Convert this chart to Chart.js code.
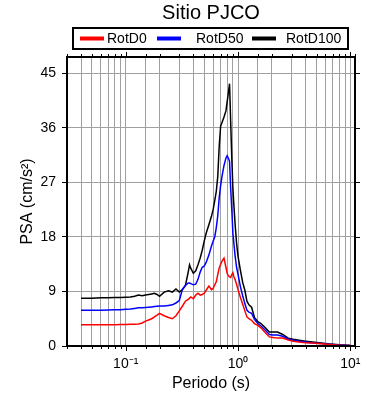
<!DOCTYPE html>
<html>
<head>
<meta charset="utf-8">
<script src="https://cdn.jsdelivr.net/npm/chart.js@4.4.0/dist/chart.umd.min.js"></script>
<style>
  html, body { margin: 0; padding: 0; background: #fff; }
</style>
</head>
<body>
<canvas id="psa-chart" width="390" height="400"></canvas>
<script>
// periods (s) shared by the three spectra
var periods = [0.04, 0.05, 0.06, 0.07, 0.08, 0.09, 0.10, 0.11, 0.12, 0.13,
  0.14, 0.15, 0.16, 0.17, 0.18, 0.19, 0.20, 0.22, 0.24, 0.26,
  0.28, 0.30, 0.32, 0.34, 0.36, 0.37, 0.38, 0.40, 0.42, 0.44,
  0.46, 0.48, 0.50, 0.52, 0.55, 0.58, 0.60, 0.62, 0.64, 0.66,
  0.68, 0.70, 0.72, 0.75, 0.78, 0.80, 0.82, 0.84, 0.86, 0.88,
  0.90, 0.92, 0.94, 0.97, 1.00, 1.05, 1.10, 1.15, 1.20, 1.25,
  1.32, 1.40, 1.50, 1.60, 1.75, 1.90, 2.05, 2.25, 2.50, 2.80,
  3.10, 3.50, 4.00, 4.60, 5.50, 6.50, 8.00, 10.0];

var rotD0 = [3.5, 3.5, 3.5, 3.5, 3.5, 3.55, 3.55, 3.6, 3.6, 3.65,
  3.8, 4.1, 4.3, 4.5, 4.8, 5.1, 5.4, 5.0, 4.7, 4.5,
  5.0, 5.8, 6.6, 7.4, 7.7, 7.9, 8.1, 7.8, 8.4, 8.7,
  8.4, 8.5, 8.7, 9.2, 9.9, 9.3, 9.5, 10.1, 10.6, 11.8,
  12.9, 13.5, 14.0, 14.5, 13.0, 12.0, 11.6, 11.4, 11.3, 11.8,
  12.1, 11.4, 11.0, 10.2, 9.3, 8.0, 6.9, 5.8, 4.8, 4.5,
  4.25, 3.7, 3.4, 3.0, 2.2, 1.5, 1.4, 1.3, 1.3, 1.0,
  0.8, 0.65, 0.55, 0.48, 0.38, 0.26, 0.14, 0.07];

var rotD50 = [5.9, 5.9, 5.9, 5.95, 6.0, 6.0, 6.05, 6.1, 6.2, 6.3,
  6.3, 6.35, 6.4, 6.45, 6.5, 6.55, 6.6, 6.6, 6.7, 6.8,
  7.1, 7.5, 9.4, 10.0, 10.4, 10.4, 10.3, 10.1, 10.2, 11.0,
  12.2, 13.0, 13.2, 13.8, 15.0, 16.5, 17.3, 18.0, 19.5, 21.5,
  24.5, 26.5, 28.0, 29.8, 31.0, 31.4, 31.0, 30.5, 26.0, 22.5,
  18.6, 16.8, 15.0, 13.0, 11.8, 9.8, 8.3, 7.0, 5.9, 5.6,
  5.4, 4.4, 3.7, 3.3, 2.6, 1.9, 1.8, 1.8, 1.6, 1.15,
  0.95, 0.8, 0.65, 0.5, 0.4, 0.28, 0.15, 0.08];

var rotD100 = [7.9, 7.9, 7.95, 7.95, 8.0, 8.0, 8.05, 8.1, 8.2, 8.4,
  8.3, 8.4, 8.5, 8.6, 8.7, 8.5, 8.2, 8.9, 9.1, 8.9,
  9.4, 8.9, 9.3, 10.0, 12.2, 13.4, 12.8, 12.0, 12.4, 13.4,
  14.5, 15.8, 17.3, 18.6, 20.0, 21.4, 22.5, 24.0, 25.5, 28.0,
  33.0, 36.3, 36.9, 37.8, 38.8, 40.3, 41.8, 43.3, 37.0, 31.0,
  26.0, 23.0, 20.3, 17.0, 14.8, 12.5, 10.5, 9.2, 7.4, 6.8,
  6.4, 4.7, 4.0, 3.7, 3.0, 2.3, 2.3, 2.3, 1.9, 1.3,
  1.1, 0.95, 0.8, 0.66, 0.5, 0.35, 0.2, 0.1];

var seriesNames = ['RotD0', 'RotD50', 'RotD100'];
var seriesColors = ['#ff0000', '#0000ff', '#000000'];
var yTicks = [0, 9, 18, 27, 36, 45];

var FONT = "'Liberation Sans', Arial, Helvetica, sans-serif";
var SUP = { '-': '\u207B', '0': '\u2070', '1': '\u00B9', '2': '\u00B2', '3': '\u00B3' };

function isDecade(v) {
  var l = Math.log10(v);
  return Math.abs(l - Math.round(l)) < 1e-6;
}

function toPoints(values) {
  return periods.map(function (p, i) { return { x: p, y: values[i] }; });
}

// frame, outer ticks and the boxed legend (GMT look)
var frameAndLegend = {
  id: 'frameAndLegend',
  afterDraw: function (chart) {
    var ctx = chart.ctx;
    var a = chart.chartArea;
    var xs = chart.scales.x;
    var ys = chart.scales.y;
    ctx.save();
    ctx.strokeStyle = '#000';
    ctx.lineWidth = 1;
    ctx.beginPath();
    xs.ticks.forEach(function (t) {
      var px = Math.round(xs.getPixelForValue(t.value)) + 0.5;
      var len = isDecade(t.value) ? 5 : 3;
      ctx.moveTo(px, a.top);
      ctx.lineTo(px, a.top - len);
      ctx.moveTo(px, a.bottom);
      ctx.lineTo(px, a.bottom + len);
    });
    ys.ticks.forEach(function (t) {
      var py = Math.round(ys.getPixelForValue(t.value)) + 0.5;
      ctx.moveTo(a.right, py);
      ctx.lineTo(a.right + 5, py);
    });
    ctx.stroke();

    ctx.lineWidth = 2;
    ctx.strokeRect(a.left, a.top, a.right - a.left, a.bottom - a.top);

    // legend box
    var box = { left: 73, top: 28, right: 348, bottom: 49 };
    ctx.lineWidth = 2;
    ctx.strokeRect(box.left, box.top, box.right - box.left, box.bottom - box.top);
    var lineStart = [80, 157, 252];
    var textStart = [107, 196, 286];
    var midY = (box.top + box.bottom) / 2;
    ctx.font = '14px ' + FONT;
    ctx.textBaseline = 'middle';
    ctx.fillStyle = '#000';
    chart.data.datasets.forEach(function (ds, i) {
      ctx.strokeStyle = ds.borderColor;
      ctx.lineWidth = 4;
      ctx.beginPath();
      ctx.moveTo(lineStart[i], midY);
      ctx.lineTo(lineStart[i] + 24, midY);
      ctx.stroke();
      ctx.fillText(ds.label, textStart[i], midY + 0.5);
    });
    ctx.restore();
  }
};

var ctx = document.getElementById('psa-chart');

var psaChart = new Chart(ctx, {
  type: 'line',
  data: {
    datasets: [rotD0, rotD50, rotD100].map(function (vals, i) {
      return {
        label: seriesNames[i],
        data: toPoints(vals),
        borderColor: seriesColors[i],
        backgroundColor: seriesColors[i],
        borderWidth: 1.5,
        pointRadius: 0,
        tension: 0,
        fill: false
      };
    })
  },
  options: {
    responsive: false,
    animation: false,
    layout: { padding: { left: 0, right: 35, top: 0, bottom: 0 } },
    plugins: {
      legend: { display: false },
      tooltip: { enabled: false },
      title: {
        display: true,
        fullSize: false,
        text: 'Sitio PJCO',
        color: '#000',
        font: { family: FONT, size: 20, weight: 'normal' },
        padding: { top: 1, bottom: 32 }
      }
    },
    scales: {
      x: {
        type: 'logarithmic',
        min: 0.03,
        max: 11,
        border: { display: false },
        grid: { color: '#a0a0a0', lineWidth: 1, tickLength: 6, tickColor: 'rgba(0,0,0,0)' },
        afterFit: function (s) { s.height = 54; },
        ticks: {
          autoSkip: false,
          maxRotation: 0,
          padding: 4,
          color: '#000',
          font: { family: FONT, size: 14 },
          callback: function (v) {
            if (!isDecade(v)) return '';
            var e = String(Math.round(Math.log10(v)));
            return '10' + e.split('').map(function (c) { return SUP[c]; }).join('');
          }
        },
        title: {
          display: true,
          text: 'Periodo (s)',
          color: '#000',
          font: { family: FONT, size: 16 },
          padding: { top: 0, bottom: 7 }
        }
      },
      y: {
        min: 0,
        max: 47.7,
        border: { display: false },
        grid: { color: '#a0a0a0', lineWidth: 1, tickLength: 5, tickColor: '#000' },
        afterFit: function (s) { s.width = 67; },
        afterBuildTicks: function (s) {
          s.ticks = yTicks.map(function (v) { return { value: v }; });
        },
        ticks: {
          padding: 6,
          color: '#000',
          font: { family: FONT, size: 14 }
        },
        title: {
          display: true,
          text: 'PSA (cm/s\u00B2)',
          color: '#000',
          font: { family: FONT, size: 16 },
          padding: { top: 18, bottom: 0 }
        }
      }
    }
  },
  plugins: [frameAndLegend]
});
</script>
</body>
</html>
